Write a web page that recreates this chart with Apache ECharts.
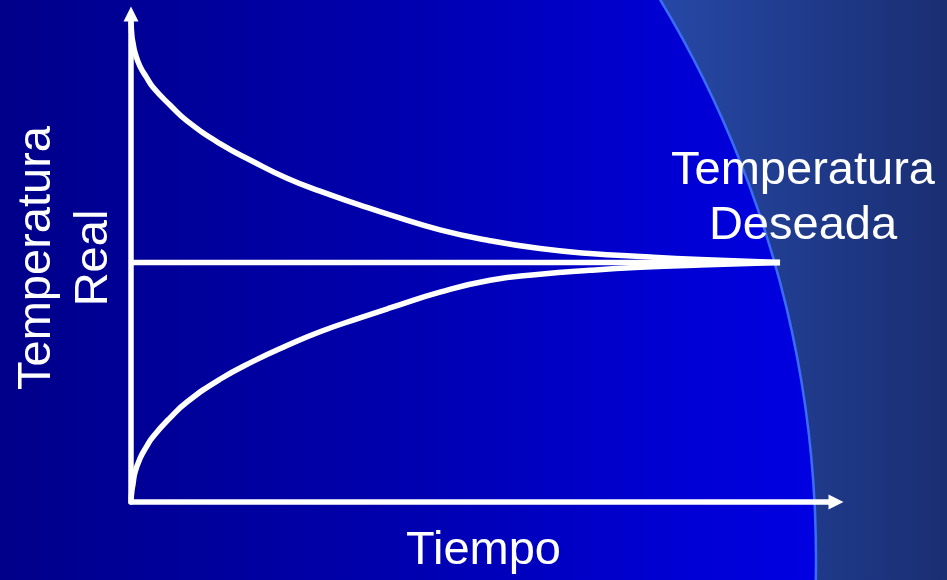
<!DOCTYPE html>
<html>
<head>
<meta charset="utf-8">
<script src="https://cdn.jsdelivr.net/npm/echarts@6/dist/echarts.min.js"></script>
<style>
html,body{margin:0;padding:0;background:#000088;}
#chart{width:947px;height:580px;}
</style>
</head>
<body>
<div id="chart"></div>
<script>
// Time samples (0..100 scale along the horizontal axis)
var tiempo = [0, 0.14, 0.28, 0.57, 1.28, 2.2, 3.12, 5.53, 7.94, 12.62, 17.3, 22.13, 26.81, 32.48, 36.74, 43.83, 50.92, 58.01, 65.11, 72.2, 80.71, 92.06];
// Curve approaching from above (0..100 scale on the vertical axis)
var tempArriba = [98.38, 95.34, 94.12, 92.09, 89.25, 87.02, 84.99, 81.34, 78.09, 73.43, 69.78, 66.33, 63.69, 60.85, 58.83, 55.78, 53.55, 51.93, 50.92, 50.31, 49.70, 49.09];
// Curve approaching from below
var tempAbajo = [0.41, 2.44, 3.65, 6.09, 8.93, 11.36, 13.39, 17.24, 20.49, 25.15, 28.81, 32.05, 34.89, 37.73, 39.76, 43.0, 45.44, 46.66, 47.47, 48.08, 48.58, 49.09];
// Desired temperature (set point)
var tempDeseada = 49.09;
var tiempoFin = 92.06;

var ejeX = 'Tiempo';
var ejeY = 'Temperatura\nReal';
var etiquetaDeseada = 'Temperatura\nDeseada';

function pares(xs, ys) { return xs.map(function (x, i) { return [x, ys[i]]; }); }

var chart = echarts.init(document.getElementById('chart'), null, {renderer: 'canvas'});
var fontFam = '"Liberation Sans", Arial, sans-serif';
var lineW = 5.5;

chart.setOption({
  animation: false,
  backgroundColor: 'transparent',
  grid: {left: 131, right: 111, top: 14, bottom: 73, containLabel: false},
  xAxis: {
    type: 'value', min: 0, max: 100,
    name: ejeX, nameLocation: 'middle', nameGap: 26,
    nameTextStyle: {color: '#ffffff', fontSize: 47, fontFamily: fontFam, lineHeight: 47},
    axisLine: {show: true, onZero: false, symbol: ['none', 'triangle'], symbolSize: [15, 15],
      lineStyle: {color: '#ffffff', width: lineW}},
    axisTick: {show: false}, axisLabel: {show: false}, splitLine: {show: false}
  },
  yAxis: {
    type: 'value', min: 0, max: 100,
    name: ejeY, nameLocation: 'middle', nameGap: 8, nameRotate: 90,
    nameTextStyle: {color: '#ffffff', fontSize: 47, fontFamily: fontFam, lineHeight: 57},
    axisLine: {show: true, onZero: false, symbol: ['none', 'triangle'], symbolSize: [15, 15],
      lineStyle: {color: '#ffffff', width: lineW}},
    axisTick: {show: false}, axisLabel: {show: false}, splitLine: {show: false}
  },
  graphic: [
    {type: 'rect', z: -100, silent: true, shape: {x: 0, y: 0, width: 947, height: 580},
      style: {fill: {type: 'linear', x: 660, y: 0, x2: 947, y2: 0, global: true,
        colorStops: [{offset: 0, color: '#2648a6'}, {offset: 1, color: '#1a2e72'}]}}},
    {type: 'circle', z: -99, silent: true, shape: {cx: -264, cy: 559, r: 1080},
      style: {fill: {type: 'linear', x: 0, y: 0, x2: 816, y2: 0, global: true,
        colorStops: [{offset: 0, color: '#00008a'}, {offset: 0.45, color: '#0000aa'},
                     {offset: 0.8, color: '#0000d0'}, {offset: 1, color: '#0000e2'}]},
        stroke: '#3b6cf8', lineWidth: 2.5}},
    {type: 'text', z: 10, silent: true, x: 803, y: 199,
      style: {text: etiquetaDeseada, fill: '#ffffff', fontSize: 47, fontFamily: fontFam,
        lineHeight: 55, align: 'center', verticalAlign: 'middle'}}
  ],
  series: [
    {type: 'line', data: pares(tiempo, tempArriba), showSymbol: false, smooth: 0.5,
      lineStyle: {color: '#ffffff', width: lineW}, silent: true},
    {type: 'line', data: pares(tiempo, tempAbajo), showSymbol: false, smooth: 0.5,
      lineStyle: {color: '#ffffff', width: lineW}, silent: true},
    {type: 'line', data: [[0, tempDeseada], [tiempoFin, tempDeseada]], showSymbol: false,
      lineStyle: {color: '#ffffff', width: lineW}, silent: true}
  ]
});
</script>
</body>
</html>
